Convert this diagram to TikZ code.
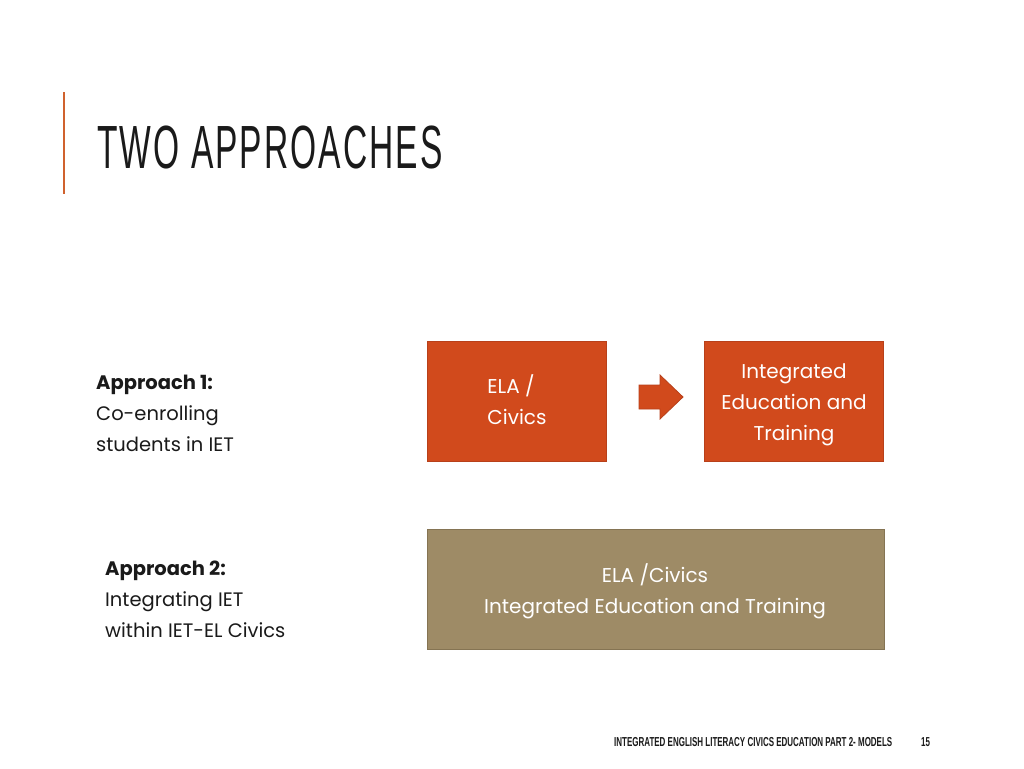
\documentclass[tikz,border=0pt]{standalone}
\usepackage{fontspec}
\setmainfont{Poppins}
\newfontfamily\titlefont[FakeStretch=0.55,LetterSpace=3.4]{Liberation Sans}
\newfontfamily\footfont[FakeStretch=0.614]{Liberation Sans}
\definecolor{accent}{HTML}{D0622E}
\definecolor{boxred}{HTML}{D14A1C}
\definecolor{boxredline}{HTML}{B8401A}
\definecolor{boxtan}{HTML}{9E8B66}
\definecolor{boxtanline}{HTML}{857453}
\definecolor{txt}{HTML}{1A1A1A}
\tikzset{
  redbox/.style={draw=boxredline, line width=1pt, fill=boxred, text=white, minimum width=179pt, minimum height=120pt, inner sep=0pt, font=\fontsize{20}{31}\selectfont, align=center},
  tanbox/.style={draw=boxtanline, line width=1pt, fill=boxtan, text=white, minimum width=457pt, minimum height=120pt, inner sep=0pt, font=\fontsize{20}{31}\selectfont, align=center},
  sidetxt/.style={anchor=north west, inner sep=0pt, align=left, text=txt, font=\fontsize{19.5}{31}\selectfont},
  arrowshape/.style={draw=boxredline, fill=boxred, line width=0.8pt, line join=miter}
}
\begin{document}
\begin{tikzpicture}[x=1pt,y=-1pt]
\useasboundingbox (0,0) rectangle (1024,768);
\fill[white] (0,0) rectangle (1024,768);
\draw[accent, line width=2.5pt] (64,92) coordinate (l1) -- (64,194) coordinate (l2);
\node[anchor=base west, inner sep=0pt, text=txt, font=\titlefont\fontsize{61}{63}\selectfont] (title) at (97,168) {TWO APPROACHES};

\node[redbox] (ela) at (516.5,401) {};
\node[anchor=center, align=left, text=white, font=\fontsize{20}{31}\selectfont, inner sep=0pt] (elatxt) at (517,400) {ELA /\\Civics};
\node[redbox] (iet) at (794,401) {};
\node[align=center, text=white, font=\fontsize{20}{31}\selectfont, inner sep=0pt] (iettxt) at (794,405) {Integrated\\Education and\\Training};
\coordinate (arr) at (661,397);
\draw[arrowshape] ([shift={(-22,-12)}]arr) -- ([shift={(-1,-12)}]arr) -- ([shift={(-1,-22)}]arr) -- ([shift={(22,0)}]arr) -- ([shift={(-1,22)}]arr) -- ([shift={(-1,12)}]arr) -- ([shift={(-22,12)}]arr) -- cycle;
\node[tanbox] (both) at (655.5,589) {};
\node[align=center, text=white, font=\fontsize{20}{31}\selectfont, inner sep=0pt] (bothtxt) at (655,591) {ELA /Civics\\Integrated Education and Training};

\node[sidetxt] (a1) at (96,374.5) {\textbf{Approach 1:}\\Co-enrolling\\students in IET};
\node[sidetxt] (a2) at (105,561) {\textbf{Approach 2:}\\Integrating IET\\within IET-EL Civics};

\node[anchor=base west, inner sep=0pt, text=txt, font=\footfont\bfseries\fontsize{13}{13}\selectfont] (foot) at (614,746) {INTEGRATED ENGLISH LITERACY CIVICS EDUCATION PART 2- MODELS};
\node[anchor=base west, inner sep=0pt, text=txt, font=\footfont\bfseries\fontsize{13}{13}\selectfont] (page) at (921,746) {15};
\end{tikzpicture}
\end{document}
